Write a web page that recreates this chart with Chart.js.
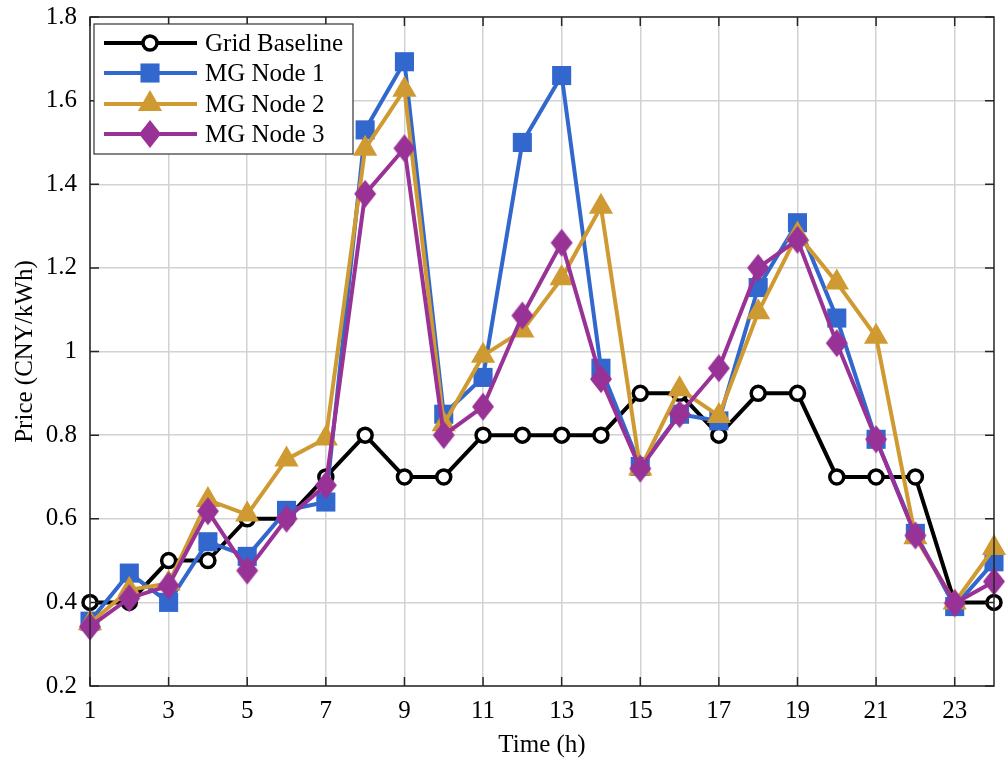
<!DOCTYPE html>
<html>
<head>
<meta charset="utf-8">
<script src="https://cdn.jsdelivr.net/npm/chart.js@4"></script>
<style>
  html, body { margin: 0; padding: 0; background: #fff; }
  #wrap { width: 1008px; height: 762px; }
</style>
</head>
<body>
<div id="wrap"><canvas id="grafico" width="1008" height="762"></canvas></div>
<script>
const horas = [1,2,3,4,5,6,7,8,9,10,11,12,13,14,15,16,17,18,19,20,21,22,23,24];
const gridBaseline = [0.40,0.40,0.50,0.50,0.60,0.60,0.70,0.80,0.70,0.70,0.80,0.80,0.80,0.80,0.90,0.90,0.80,0.90,0.90,0.70,0.70,0.70,0.40,0.40];
const mgNode1 = [0.355,0.47,0.40,0.545,0.51,0.62,0.64,1.53,1.693,0.85,0.938,1.50,1.66,0.96,0.725,0.85,0.834,1.153,1.308,1.08,0.79,0.565,0.39,0.497];
const mgNode2 = [0.35,0.43,0.445,0.645,0.61,0.742,0.792,1.485,1.626,0.826,0.99,1.05,1.175,1.346,0.72,0.91,0.846,1.094,1.28,1.165,1.035,0.556,0.40,0.53];
const mgNode3 = [0.342,0.41,0.44,0.618,0.476,0.60,0.68,1.377,1.486,0.80,0.868,1.086,1.26,0.934,0.72,0.85,0.96,1.20,1.267,1.02,0.79,0.56,0.398,0.45];
const nomes = ["Grid Baseline", "MG Node 1", "MG Node 2", "MG Node 3"];
const xTicks = [1,3,5,7,9,11,13,15,17,19,21,23];

const PRETO = "#000000";
const AZUL = "rgb(50,104,206)";
const OURO = "rgb(208,154,50)";
const ROXO = "rgb(153,50,150)";
const FONTE = "'Liberation Serif', 'Times New Roman', serif";
const TAM = 25;

// losango mais alto que largo, como no MATLAB
function fazerLosango(cor) {
  const c = document.createElement("canvas");
  c.width = 24; c.height = 30;
  const g = c.getContext("2d");
  g.fillStyle = cor;
  g.beginPath();
  g.moveTo(12, 1); g.lineTo(23, 15); g.lineTo(12, 29); g.lineTo(1, 15);
  g.closePath();
  g.fill();
  return c;
}

const pontos = arr => arr.map((v, i) => ({ x: horas[i], y: v }));

const moldura = {
  id: "moldura",
  afterDraw(chart) {
    const { ctx, chartArea: a } = chart;
    const xs = chart.scales.x, ys = chart.scales.y;
    ctx.save();
    ctx.strokeStyle = "#262626";
    ctx.lineWidth = 1.5;
    ctx.strokeRect(a.left, a.top, a.right - a.left, a.bottom - a.top);
    ctx.beginPath();
    xTicks.forEach(t => {
      const px = xs.getPixelForValue(t);
      ctx.moveTo(px, a.bottom); ctx.lineTo(px, a.bottom - 9);
      ctx.moveTo(px, a.top); ctx.lineTo(px, a.top + 9);
    });
    ys.ticks.forEach(t => {
      const py = ys.getPixelForValue(t.value);
      ctx.moveTo(a.left, py); ctx.lineTo(a.left + 9, py);
      ctx.moveTo(a.right, py); ctx.lineTo(a.right - 9, py);
    });
    ctx.stroke();

    // legenda
    const lx = 94, ly = 24, lw = 259, lh = 130;
    ctx.fillStyle = "#fff";
    ctx.fillRect(lx, ly, lw, lh);
    ctx.strokeStyle = "#333";
    ctx.lineWidth = 1.2;
    ctx.strokeRect(lx, ly, lw, lh);
    const linhasY = [43, 73, 104, 134];
    chart.data.datasets.forEach((d, i) => {
      const y = linhasY[i];
      ctx.strokeStyle = d.borderColor;
      ctx.lineWidth = 4;
      ctx.beginPath(); ctx.moveTo(104, y); ctx.lineTo(197, y); ctx.stroke();
      const st = d.pointStyle;
      if (st instanceof HTMLCanvasElement) {
        ctx.drawImage(st, 150 - st.width / 2, y - st.height / 2);
      } else {
        ctx.fillStyle = d.pointBackgroundColor;
        ctx.strokeStyle = d.pointBorderColor;
        ctx.lineWidth = d.pointBorderWidth;
        Chart.helpers.drawPoint(ctx, { pointStyle: st, radius: d.pointRadius, rotation: 0,
          borderWidth: d.pointBorderWidth }, 150, y);
      }
      ctx.fillStyle = "#000";
      ctx.font = TAM + "px " + FONTE;
      ctx.textBaseline = "middle";
      ctx.fillText(nomes[i], 205, y + 1);
    });
    ctx.restore();
  }
};

new Chart(document.getElementById("grafico").getContext("2d"), {
  type: "line",
  data: {
    datasets: [
      { label: nomes[0], data: pontos(gridBaseline), borderColor: PRETO, borderWidth: 4,
        pointStyle: "circle", pointRadius: 7, pointBorderWidth: 3.5, clip: false,
        pointBackgroundColor: "#fff", pointBorderColor: PRETO, order: 4 },
      { label: nomes[1], data: pontos(mgNode1), borderColor: AZUL, borderWidth: 4,
        pointStyle: "rect", pointRadius: 13.5, pointBorderWidth: 0, clip: false,
        pointBackgroundColor: AZUL, pointBorderColor: AZUL, order: 3 },
      { label: nomes[2], data: pontos(mgNode2), borderColor: OURO, borderWidth: 4,
        pointStyle: "triangle", pointRadius: 14, pointBorderWidth: 0, clip: false,
        pointBackgroundColor: OURO, pointBorderColor: OURO, order: 2 },
      { label: nomes[3], data: pontos(mgNode3), borderColor: ROXO, borderWidth: 4,
        pointStyle: fazerLosango(ROXO), pointRadius: 13, pointBorderWidth: 0, clip: false,
        pointBackgroundColor: ROXO, pointBorderColor: ROXO, order: 1 }
    ]
  },
  options: {
    responsive: false,
    animation: false,
    layout: { padding: { top: 17, right: 13, left: 0, bottom: 0 } },
    plugins: { legend: { display: false }, tooltip: { enabled: false } },
    elements: { line: { tension: 0 } },
    scales: {
      x: {
        type: "linear", min: 1, max: 24,
        afterBuildTicks: s => { s.ticks = xTicks.map(v => ({ value: v })); },
        afterFit: s => { s.height = 76; s.paddingLeft = 0; s.paddingRight = 0; },
        grid: { color: "#d2d2d2", lineWidth: 1.5, drawTicks: false },
        border: { display: false },
        ticks: { color: "#000", padding: 10, maxRotation: 0, autoSkip: false,
                 font: { family: FONTE, size: TAM } },
        title: { display: true, text: "Time (h)", color: "#000",
                 font: { family: FONTE, size: TAM }, padding: { top: 0, bottom: 2 } }
      },
      y: {
        min: 0.2, max: 1.8,
        ticks: { stepSize: 0.2, color: "#000", padding: 13,
                 font: { family: FONTE, size: TAM },
                 callback: v => String(Number(v.toFixed(1))) },
        afterFit: s => { s.width = 90; s.paddingTop = 0; s.paddingBottom = 0; },
        grid: { color: "#d2d2d2", lineWidth: 1.5, drawTicks: false },
        border: { display: false },
        title: { display: true, text: "Price (CNY/kWh)", color: "#000",
                 font: { family: FONTE, size: TAM }, padding: { top: 10, bottom: 0 } }
      }
    }
  },
  plugins: [moldura]
});
</script>
</body>
</html>
